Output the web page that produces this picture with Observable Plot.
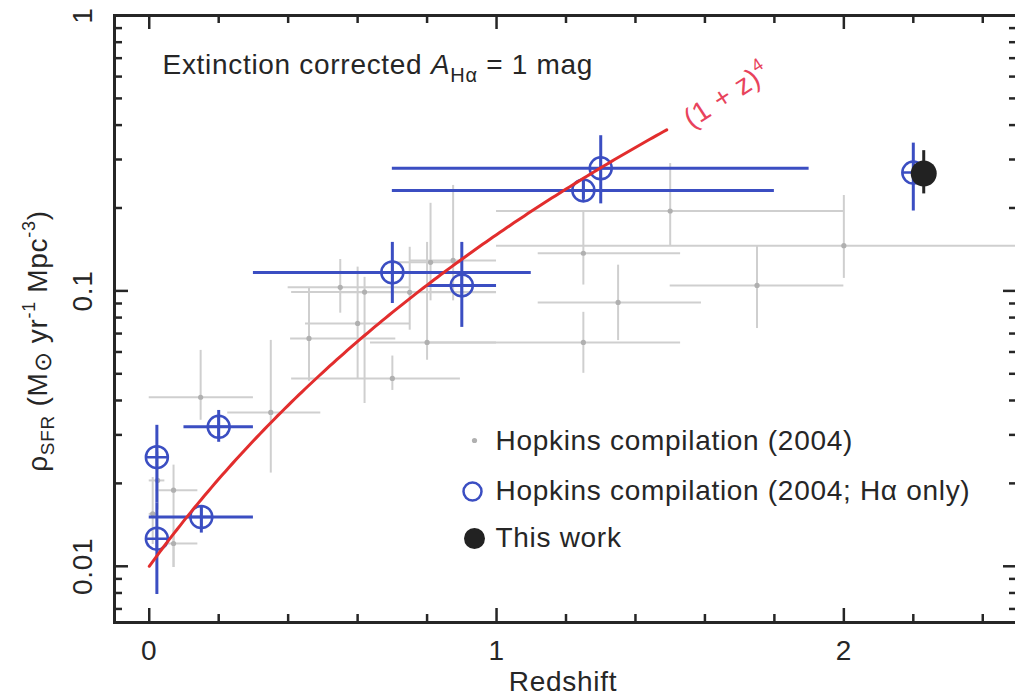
<!DOCTYPE html>
<html><head><meta charset="utf-8">
<script src="https://cdn.jsdelivr.net/npm/d3@7"></script>
<script src="https://cdn.jsdelivr.net/npm/@observablehq/plot@0.6"></script>
<style>
html,body{margin:0;padding:0;background:#fff;overflow:hidden;}
#chart svg{display:block;max-width:none !important;width:1020px;height:700px !important;}
#chart text{letter-spacing:0.7px;}
</style></head><body><div id="chart"></div>
<script>
// ---------- Hopkins compilation (2004), all indicators (grey) ----------
const hopZ   = [0.024, 0.010, 0.070, 0.070, 0.148, 0.350, 0.460, 0.600, 0.620, 0.700, 0.750, 0.800, 0.810, 0.875, 0.550, 1.250, 1.250, 1.350, 1.500, 1.750, 2.000];
const hopRho = [0.0205, 0.0155, 0.0189, 0.0121, 0.0411, 0.0362, 0.0672, 0.0762, 0.0990, 0.0481, 0.0988, 0.0650, 0.1270, 0.1290, 0.1030, 0.1370, 0.0650, 0.0908, 0.1950, 0.1047, 0.1460];
const hopZlo = [0.000, 0.000, 0.020, 0.055, 0.000, 0.226, 0.407, 0.450, 0.410, 0.410, 0.550, 0.637, 0.700, 0.750, 0.400, 1.120, 0.800, 1.120, 1.000, 1.500, 1.000];
const hopZhi = [0.045, 0.020, 0.140, 0.140, 0.300, 0.494, 0.710, 0.750, 1.000, 0.896, 1.000, 1.000, 0.900, 1.000, 0.750, 1.530, 1.530, 1.590, 2.000, 2.000, 3.000];
const hopRlo = [0.0160, 0.0120, 0.0099, 0.0099, 0.0339, 0.0218, 0.0470, 0.0480, 0.0390, 0.0435, 0.0720, 0.0560, 0.0920, 0.0920, 0.0830, 0.1050, 0.0502, 0.0660, 0.1460, 0.0730, 0.1110];
const hopRhi = [0.0260, 0.0210, 0.0233, 0.0135, 0.0608, 0.0661, 0.1030, 0.1220, 0.1120, 0.0580, 0.1440, 0.1500, 0.2080, 0.2415, 0.1300, 0.1950, 0.0836, 0.1240, 0.2900, 0.1460, 0.2220];

// ---------- Hopkins compilation (2004; Hα only) (blue) ----------
const haZ   = [0.022, 0.022, 0.150, 0.200, 0.700, 0.900, 1.250, 1.300, 2.200];
const haRho = [0.0249, 0.0126, 0.0151, 0.0321, 0.1167, 0.1047, 0.2317, 0.2786, 0.2690];
const haZlo = [0.022, 0.022, 0.000, 0.100, 0.300, 0.800, 0.700, 0.700, 2.200];
const haZhi = [0.022, 0.022, 0.300, 0.300, 1.100, 1.000, 1.800, 1.900, 2.200];
const haRlo = [0.0170, 0.0079, 0.0132, 0.0282, 0.0900, 0.0737, 0.2150, 0.2070, 0.1950];
const haRhi = [0.0325, 0.0170, 0.0166, 0.0368, 0.1500, 0.1500, 0.2500, 0.3660, 0.3440];

// ---------- This work (black) ----------
const twZ   = [2.23];
const twRho = [0.267];
const twRlo = [0.225];
const twRhi = [0.323];

// ---------- (1 + z)^4 model, normalised to 0.01 at z = 0, drawn to z = 1.5 ----------
const modelNorm = 0.01;
const modelZmax = 1.49;

// ---------- axes ----------
const xMajor = [0, 1, 2];
const xTickLabels = ["0", "1", "2"];
const xMinor = [0.2, 0.4, 0.6, 0.8, 1.2, 1.4, 1.6, 1.8, 2.2, 2.4];
const yMajor = [0.01, 0.1, 1];
const yTickLabels = ["0.01", "0.1", "1"];
const yMinor = [0.007, 0.008, 0.009, 0.02, 0.03, 0.04, 0.05, 0.06, 0.07, 0.08, 0.09, 0.2, 0.3, 0.4, 0.5, 0.6, 0.7, 0.8, 0.9];
const xTitle = "Redshift";
const yTitleParts = [["ρ"], ["SFR", "sub"], [" (M"], ["⊙", "sym"], [" yr"], ["-1", "sup"], [" Mpc"], ["-3", "sup"], [")"]];
const annotParts = [["Extinction corrected "], ["A", "ital"], ["Hα", "sub2"], [" = 1 mag"]];
const modelLabelParts = [["(1 + z)"], ["4", "sup2"]];
const legendLabels = ["Hopkins compilation (2004)", "Hopkins compilation (2004; Hα only)", "This work"];

// ---------- build tables ----------
const hop = hopZ.map((z, i) => ({z, rho: hopRho[i], zlo: hopZlo[i], zhi: hopZhi[i], rlo: hopRlo[i], rhi: hopRhi[i]}));
const ha = haZ.map((z, i) => ({z, rho: haRho[i], zlo: haZlo[i], zhi: haZhi[i], rlo: haRlo[i], rhi: haRhi[i]}));
const tw = twZ.map((z, i) => ({z, rho: twRho[i], rlo: twRlo[i], rhi: twRhi[i]}));
const model = d3.range(0, modelZmax + 1e-9, 0.01).map(z => ({z, rho: modelNorm * Math.pow(1 + z, 4)}));

const join = parts => parts.map(p => p[0]).join("");
const yTitle = join(yTitleParts), annot = join(annotParts), modelLabel = join(modelLabelParts);

// ---------- layout / style ----------
const W = 1020, H = 700;
const mL = 114, mR = 3, mT = 15, mB = 78;
const frameW = W - mL - mR, frameH = H - mT - mB;
const ink = "#262626", blue = "#3b4ec2", red = "#e22d2d", redText = "#e8435c";
const grayBar = "#cfcfcf", grayDot = "#b0b0b0";
const FS = 28;
const tickW = 2.5, minorLen = 8, majorLen = 14;

const cross = {draw(ctx, size) { const r = Math.sqrt(size / Math.PI); ctx.moveTo(-r, 0); ctx.lineTo(r, 0); ctx.moveTo(0, -r); ctx.lineTo(0, r); }};

const tickRule = (vals, axis, inset) => axis === "x"
  ? Plot.ruleX(vals, {x: d => d, ...inset, stroke: ink, strokeWidth: tickW})
  : Plot.ruleY(vals, {y: d => d, ...inset, stroke: ink, strokeWidth: tickW});

const txt = {fill: ink, fontSize: FS, textAnchor: "middle", lineAnchor: "middle"};

const plot = Plot.plot({
  width: W, height: H,
  marginLeft: mL, marginRight: mR, marginTop: mT, marginBottom: mB,
  style: {fontFamily: "'Liberation Sans', Arial, Helvetica, sans-serif", fontSize: FS + "px", background: "#fff", overflow: "visible"},
  x: {domain: [-0.1, 2.5], axis: null},
  y: {type: "log", domain: [0.00625, 1], axis: null},
  marks: [
    // grey compilation
    Plot.ruleY(hop, {y: "rho", x1: "zlo", x2: "zhi", stroke: grayBar, strokeWidth: 2}),
    Plot.ruleX(hop, {x: "z", y1: "rlo", y2: "rhi", stroke: grayBar, strokeWidth: 2}),
    Plot.dot(hop, {x: "z", y: "rho", r: 2.6, fill: grayDot}),
    // blue Hα-only
    Plot.ruleY(ha, {y: "rho", x1: "zlo", x2: "zhi", stroke: blue, strokeWidth: 3}),
    Plot.ruleX(ha, {x: "z", y1: "rlo", y2: "rhi", stroke: blue, strokeWidth: 3}),
    Plot.dot(ha, {x: "z", y: "rho", r: 11, symbol: cross, stroke: blue, strokeWidth: 2.5, fill: "none"}),
    Plot.dot(ha, {x: "z", y: "rho", r: 11, stroke: blue, strokeWidth: 2.5, fill: "none"}),
    // this work
    Plot.ruleX(tw, {x: "z", y1: "rlo", y2: "rhi", stroke: ink, strokeWidth: 3}),
    Plot.dot(tw, {x: "z", y: "rho", r: 13, fill: "#222"}),
    // model
    Plot.line(model, {x: "z", y: "rho", stroke: red, strokeWidth: 3}),
    // frame + inward ticks
    Plot.frame({stroke: ink, strokeWidth: 3}),
    tickRule(xMinor, "x", {insetTop: frameH - minorLen}),
    tickRule(xMinor, "x", {insetBottom: frameH - minorLen}),
    tickRule(xMajor, "x", {insetTop: frameH - majorLen}),
    tickRule(xMajor, "x", {insetBottom: frameH - majorLen}),
    tickRule(yMinor, "y", {insetRight: frameW - minorLen}),
    tickRule(yMinor, "y", {insetLeft: frameW - minorLen}),
    tickRule(yMajor, "y", {insetRight: frameW - majorLen}),
    tickRule(yMajor, "y", {insetLeft: frameW - majorLen}),
    // tick labels and titles
    Plot.text(xMajor, {x: d => d, text: (d, i) => xTickLabels[i], frameAnchor: "bottom", dy: 29, ...txt}),
    Plot.text(yMajor, {y: d => d, text: (d, i) => yTickLabels[i], frameAnchor: "left", dx: -31, rotate: -90, ...txt}),
    Plot.text([xTitle], {text: d => d, frameAnchor: "bottom", dx: -3, dy: 60, ...txt}),
    Plot.text([yTitle], {text: d => d, frameAnchor: "left", dx: -76, dy: 22, rotate: -90, ...txt}),
    // annotations
    Plot.text([annot], {text: d => d, frameAnchor: "top-left", dx: 48, dy: 50, ...txt, textAnchor: "start"}),
    Plot.text([modelLabel], {text: d => d, frameAnchor: "top-left", dx: 572, dy: 106, rotate: -33, ...txt, fill: redText, fontSize: 28, textAnchor: "start"}),
    // legend
    Plot.dot([0], {frameAnchor: "top-left", dx: 360, dy: 425, r: 2.6, fill: grayDot}),
    Plot.dot([0], {frameAnchor: "top-left", dx: 358, dy: 476, r: 9, stroke: blue, strokeWidth: 2.5, fill: "none"}),
    Plot.dot([0], {frameAnchor: "top-left", dx: 360, dy: 523, r: 10.5, fill: "#222"}),
    ...legendLabels.map((lab, i) => Plot.text([lab], {text: d => d, frameAnchor: "top-left", dx: 381, dy: [426, 476, 523][i], ...txt, textAnchor: "start"}))
  ]
});

// rich text: subscripts / superscripts / italics
const styles = {
  sub:  {size: 19, shift: -7},
  sub2: {size: 20, shift: -8},
  sym:  {size: 24, shift: -4},
  sup:  {size: 18, shift: 12},
  sup2: {size: 18, shift: 12},
  ital: {italic: true}
};
const rich = new Map([[yTitle, yTitleParts], [annot, annotParts], [modelLabel, modelLabelParts]]);
d3.select(plot).selectAll("text").each(function() {
  const parts = rich.get(this.textContent);
  if (!parts) return;
  this.textContent = "";
  for (const [t, k] of parts) {
    const s = d3.select(this).append("tspan").text(t);
    const st = styles[k];
    if (!st) continue;
    if (st.size) s.attr("font-size", st.size);
    if (st.shift) s.attr("baseline-shift", st.shift);
    if (st.italic) s.attr("font-style", "italic");
  }
});

document.getElementById("chart").appendChild(plot);
</script></body></html>
